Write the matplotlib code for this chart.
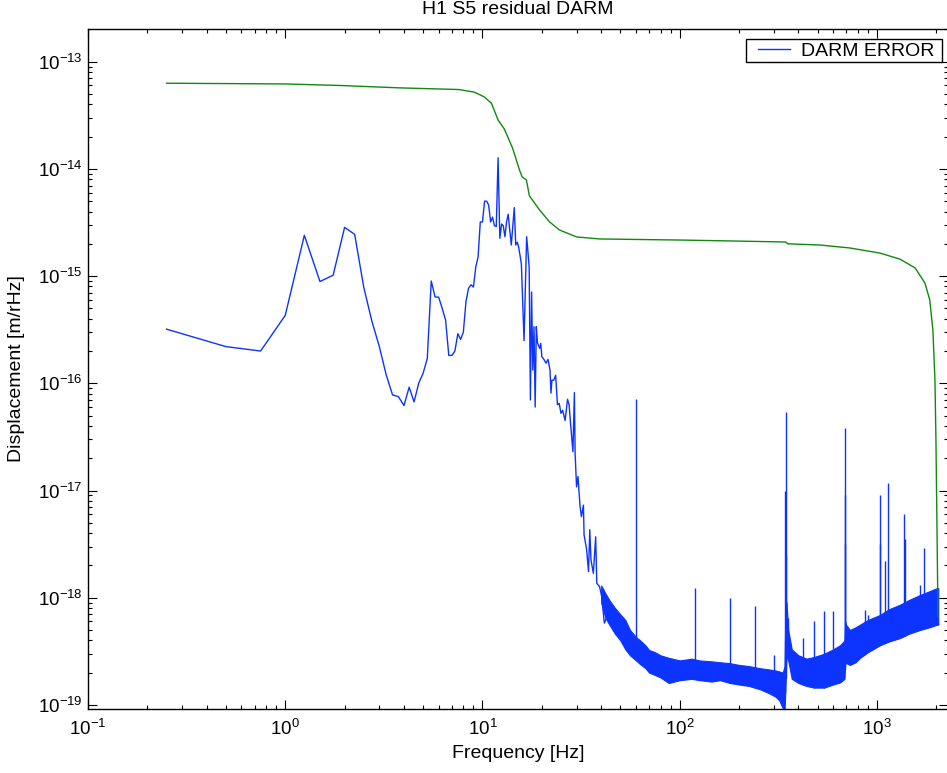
import numpy as np
import matplotlib
matplotlib.use('Agg')
import matplotlib.pyplot as plt
from matplotlib.ticker import FixedLocator, LogFormatterSciNotation, NullFormatter
from matplotlib.legend_handler import HandlerLine2D

plt.rcParams['font.family'] = ['Liberation Sans', 'DejaVu Sans']
plt.rcParams['mathtext.fontset'] = 'custom'
plt.rcParams['mathtext.rm'] = 'Liberation Sans'
plt.rcParams['mathtext.it'] = 'Liberation Sans:italic'
plt.rcParams['mathtext.bf'] = 'Liberation Sans:bold'

# ---------------- data ----------------
# DARM error, low-frequency part (Hz, m/rtHz)
darm_freq = [0.25, 0.5, 0.75, 1.0, 1.25, 1.5, 1.75, 2.0, 2.25, 2.5, 2.75, 3.0, 3.25,
             3.5, 3.75, 4.0, 4.25, 4.5, 4.75, 5.0, 5.25, 5.5, 5.75, 6.0, 6.25, 6.5,
             6.75, 7.0, 7.25, 7.5, 7.75, 8.0, 8.25, 8.5, 8.75, 9.0, 9.25, 9.5, 9.75,
             10.0, 10.25, 10.5, 10.75, 11.0, 11.25, 11.5, 11.75, 12.0, 12.25, 12.5,
             12.75, 13.0, 13.25, 13.5, 14.0, 14.5, 14.75, 15.0, 15.25, 15.75, 16.25,
             16.75, 17.0, 17.25, 17.5, 17.75, 18.0, 18.25, 18.5, 18.75, 19.0, 19.5,
             19.75, 20.0, 20.5, 21.0, 21.5, 22.0, 22.25, 22.5, 23.0, 23.5, 24.0, 24.5,
             25.0, 25.5, 26.25, 27.0, 27.5, 28.0, 28.75, 29.25, 29.5, 30.0, 30.5,
             31.25, 31.75, 32.5, 32.75, 33.75, 34.5, 35.0, 35.5, 36.5, 37.5, 38.0,
             39.25, 40.25, 41.5, 43.5, 45.5, 49.5, 51.5, 54.5]
darm_val = [3.2e-16, 2.2e-16, 2.0e-16, 4.3e-16, 2.4e-15, 8.9e-16, 1.02e-15, 2.85e-15,
            2.45e-15, 7.9e-16, 3.8e-16, 2.2e-16, 1.2e-16, 7.8e-17, 7.5e-17, 6.2e-17,
            9.2e-17, 6.7e-17, 1.0e-16, 1.24e-16, 1.7e-16, 9.0e-16, 6.4e-16, 6.35e-16,
            5.0e-16, 3.9e-16, 1.82e-16, 1.82e-16, 2.0e-16, 2.9e-16, 2.57e-16, 3.0e-16,
            5.8e-16, 7.7e-16, 8.3e-16, 7.9e-16, 1.22e-15, 1.5e-15, 3.2e-15, 3.2e-15,
            5.0e-15, 5.0e-15, 4.6e-15, 3.2e-15, 3.55e-15, 2.95e-15, 2.9e-15, 1.27e-14,
            2.25e-15, 3.06e-15, 2.95e-15, 2.33e-15, 3.2e-15, 3.77e-15, 1.95e-15,
            4.35e-15, 1.95e-15, 2.07e-15, 1.88e-15, 1.3e-15, 2.5e-16, 2.33e-15,
            1.69e-15, 1.22e-15, 7.0e-17, 7.1e-16, 1.33e-16, 3.37e-16, 6.0e-17,
            3.37e-16, 2.39e-16, 2.12e-16, 2.36e-16, 1.77e-16, 1.67e-16, 1.54e-16,
            1.67e-16, 1.33e-16, 8.1e-17, 1.07e-16, 1.07e-16, 1.19e-16, 6.3e-17,
            6.5e-17, 5.25e-17, 5.6e-17, 4.5e-17, 7.1e-17, 6.3e-17, 4.1e-17, 2.3e-17,
            8.2e-17, 2.2e-17, 1.08e-17, 1.35e-17, 7.1e-18, 5.7e-18, 7.3e-18, 3.85e-18,
            2.8e-18, 1.75e-18, 4.3e-18, 2.25e-18, 1.69e-18, 3.7e-18, 1.36e-18,
            1.27e-18, 1.02e-18, 5.8e-19, 7.1e-19, 5.4e-19, 6.6e-19, 3.8e-19, 3.25e-19]

# DARM error noise floor above ~40 Hz: lower / upper envelope
band_freq = [40, 42, 44, 47, 50, 53, 56, 60, 63, 67, 70, 75, 80, 88, 100, 115, 126,
             145, 160, 180, 200, 225, 255, 280, 305, 320, 333, 340, 344, 348, 355,
             370, 400, 440, 480, 540, 600, 650, 685, 690, 697, 730, 780, 820, 900,
             1036, 1150, 1309, 1450, 1653, 1850, 2017, 2048]
band_low = [9.0e-19, 6.5e-19, 5.6e-19, 4.6e-19, 4.0e-19, 3.3e-19, 2.9e-19, 2.6e-19,
            2.4e-19, 2.2e-19, 2.0e-19, 1.9e-19, 1.8e-19, 1.6e-19, 1.7e-19, 1.75e-19,
            1.7e-19, 1.65e-19, 1.7e-19, 1.6e-19, 1.55e-19, 1.5e-19, 1.4e-19, 1.3e-19,
            1.2e-19, 1.1e-19, 9.3e-20, 8.5e-20, 1.5e-19, 3.0e-19, 2.6e-19, 1.75e-19,
            1.6e-19, 1.5e-19, 1.45e-19, 1.45e-19, 1.55e-19, 1.62e-19, 1.75e-19,
            2.4e-19, 2.46e-19, 2.36e-19, 2.5e-19, 2.74e-19, 3.1e-19, 3.6e-19, 3.9e-19,
            4.2e-19, 4.6e-19, 5.0e-19, 5.3e-19, 5.6e-19, 5.6e-19]
band_high = [1.3e-18, 1.1e-18, 9.5e-19, 8.0e-19, 7.0e-19, 6.2e-19, 5.0e-19, 4.3e-19,
             4.0e-19, 3.6e-19, 3.25e-19, 3.1e-19, 2.9e-19, 2.75e-19, 2.6e-19, 2.7e-19,
             2.6e-19, 2.55e-19, 2.5e-19, 2.45e-19, 2.36e-19, 2.3e-19, 2.2e-19,
             2.15e-19, 2.1e-19, 2.05e-19, 2.0e-19, 2.3e-19, 9.5e-19, 9.0e-19, 5.0e-19,
             3.3e-19, 2.9e-19, 2.7e-19, 2.8e-19, 3.0e-19, 3.3e-19, 3.6e-19, 4.0e-19,
             6.0e-19, 5.6e-19, 5.0e-19, 5.3e-19, 5.6e-19, 6.2e-19, 6.9e-19, 7.8e-19,
             8.6e-19, 9.5e-19, 1.06e-18, 1.15e-18, 1.23e-18, 1.23e-18]

# narrow lines in the DARM error spectrum
spike_freq = [60, 120, 180, 240, 300, 343, 345, 347, 355, 420, 480, 538, 600, 688,
              690, 692, 869, 900, 1035, 1038, 1098, 1141, 1376, 1380, 1650, 1739]
spike_val = [7.2e-17, 1.22e-18, 9.9e-19, 8.4e-19, 2.9e-19, 1.0e-17, 5.4e-17, 2.5e-18,
             6.5e-19, 4.2e-19, 6.0e-19, 7.5e-19, 7.5e-19, 3.2e-18, 3.8e-17, 9.0e-18,
             7.7e-19, 6.9e-19, 9.1e-18, 3.2e-18, 2.2e-18, 1.17e-17, 6.1e-18, 3.5e-18,
             1.3e-18, 2.9e-18]

# green reference curve
ref_freq = [0.25, 1.0, 1.9, 3.8, 7.6, 9.1, 10.2, 11.1, 12.0, 12.9, 14.2, 15.4, 15.9,
            16.7, 17.3, 19.5, 21.9, 24.6, 30.0, 39.3, 100, 201, 345, 353, 513, 729,
            1036, 1309, 1563, 1752, 1853, 1922, 1969, 1992, 2017, 2040]
ref_val = [6.3e-14, 6.2e-14, 6.0e-14, 5.7e-14, 5.5e-14, 5.2e-14, 4.7e-14, 4.1e-14,
           2.86e-14, 2.36e-14, 1.57e-14, 9.8e-15, 8.4e-15, 7.9e-15, 5.6e-15, 4.13e-15,
           3.2e-15, 2.69e-15, 2.32e-15, 2.22e-15, 2.17e-15, 2.12e-15, 2.08e-15, 2.0e-15,
           1.95e-15, 1.83e-15, 1.64e-15, 1.44e-15, 1.19e-15, 8.6e-16, 6.0e-16,
           3.15e-16, 1.07e-16, 2.96e-17, 4.3e-18, 6.6e-19]

x_major = [0.1, 1, 10, 100, 1000]
y_major = [1e-19, 1e-18, 1e-17, 1e-16, 1e-15, 1e-14, 1e-13]

BLUE = '#0d33ff'
GREEN = '#0f8a0f'

# ---------------- figure ----------------
W, H = 947, 773
fig = plt.figure(figsize=(W / 100, H / 100), dpi=100)
L, R, T, B = 88, 948, 29, 709
ax = fig.add_axes([L / W, 1 - B / H, (R - L) / W, (B - T) / H])
ax.set_xscale('log')
ax.set_yscale('log')

line, = ax.plot(darm_freq, darm_val, color=BLUE, lw=1.0, label='DARM ERROR')
ax.fill_between(band_freq, band_low, band_high, color=BLUE, lw=0.8)
base = 10 ** np.interp(np.log10(spike_freq), np.log10(band_freq), np.log10(band_low))
ax.vlines(spike_freq, base, spike_val, color=BLUE, lw=1.0)
ax.plot(ref_freq, ref_val, color=GREEN, lw=1.0)

xmin, xmax = 0.1, 10 ** ((R - 286) / 197)
ymin, ymax = 10 ** (-13 - (B - 61.7) / 107.2), 10 ** (-13 + (61.7 - T) / 107.2)
ax.set_xlim(xmin, xmax)
ax.set_ylim(ymin, ymax)


def minor_ticks(lo, hi):
    out = []
    for e in range(int(np.floor(np.log10(lo))), int(np.ceil(np.log10(hi))) + 1):
        for m in range(2, 10):
            v = m * 10.0 ** e
            if lo <= v <= hi:
                out.append(v)
    return out


ax.xaxis.set_major_locator(FixedLocator(x_major))
ax.yaxis.set_major_locator(FixedLocator(y_major))
ax.xaxis.set_minor_locator(FixedLocator(minor_ticks(xmin, xmax)))
ax.yaxis.set_minor_locator(FixedLocator(minor_ticks(ymin, ymax)))
for axis in (ax.xaxis, ax.yaxis):
    axis.set_major_formatter(LogFormatterSciNotation())
    axis.set_minor_formatter(NullFormatter())

ax.tick_params(which='both', direction='in', top=True, right=True, width=0.8,
               colors='black')
ax.tick_params(which='major', length=6.2)
ax.tick_params(which='minor', length=3.0)
ax.tick_params(axis='x', which='major', labelsize=13.5, pad=7)
ax.tick_params(axis='y', which='major', labelsize=13.5, pad=3.6)
for s in ax.spines.values():
    s.set_linewidth(1.0)

ax.set_title('H1 S5 residual DARM', fontsize=14, pad=10.5)
ax.set_xlabel('Frequency [Hz]', fontsize=14)
ax.set_ylabel('Displacement [m/rHz]', fontsize=14)
ax.xaxis.set_label_coords(0.5, -0.053)
ax.yaxis.set_label_coords(-0.073, 0.5)

fs = 14
leg = ax.legend([line], ['DARM ERROR'], loc='upper left',
                bbox_to_anchor=(746 / W, 1 - 39 / H, (942 - 746) / W, 0),
                bbox_transform=fig.transFigure, mode='expand', borderaxespad=0,
                borderpad=0.15, handlelength=2.11, handletextpad=0.57,
                handler_map={line: HandlerLine2D(xpad=0.46)},
                fancybox=False, framealpha=1, edgecolor='black', fontsize=fs)
leg.get_frame().set_linewidth(1.0)

fig.savefig('out.png', dpi=100)
